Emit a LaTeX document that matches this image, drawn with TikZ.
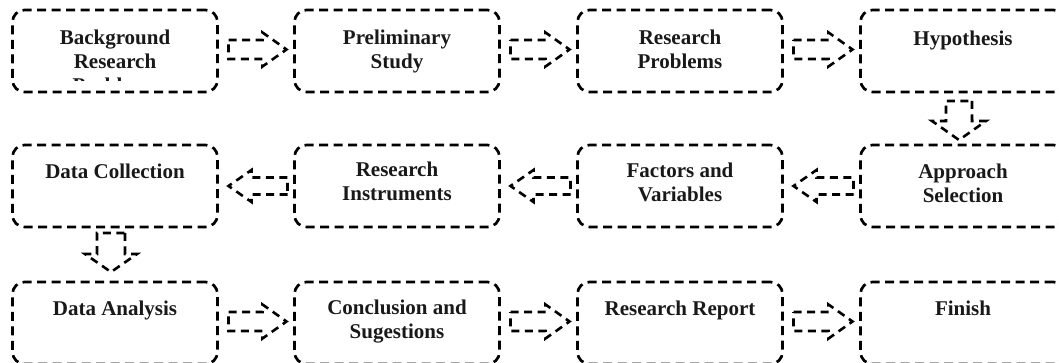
\documentclass[tikz,border=0pt]{standalone}
\usepackage{fontspec}
\setmainfont{Liberation Serif}
\usetikzlibrary{calc}
\tikzset{
  stepbox/.style={draw=black, line width=2.7pt, dash pattern=on 9pt off 5.5pt,
    rounded corners=12pt, minimum width=205pt, minimum height=82pt,
    inner sep=0pt, outer sep=0pt},
  lbl/.style={font=\fontsize{21}{24}\selectfont\bfseries, align=center,
    inner sep=0pt, outer sep=0pt, anchor=north, text=black!90},
  blk/.style={draw=black, line width=2.6pt, dash pattern=on 8pt off 5.5pt,
    line join=miter},
}
\newcommand\blockarr[5]{%
  \path (#1) coordinate (ba-t) (#2) coordinate (ba-h);
  \coordinate (ba-b) at ($(ba-h)!#5!(ba-t)$);
  \draw[blk] ($(ba-t)!#3!90:(ba-h)$) -- ($(ba-b)!#3!90:(ba-h)$)
    -- ($(ba-b)!#4!90:(ba-h)$) -- (ba-h) -- ($(ba-b)!#4!-90:(ba-h)$)
    -- ($(ba-b)!#3!-90:(ba-h)$) -- ($(ba-t)!#3!-90:(ba-h)$) -- cycle;}
\begin{document}
\begin{tikzpicture}[x=1pt,y=-1pt]
\useasboundingbox (0,0) rectangle (1059,363);
\clip (0,0) rectangle (1059,363);
% boxes
\node[stepbox] (b1) at (115,51) {};
\node[stepbox] (b2) at (397,51) {};
\node[stepbox] (b3) at (680,51) {};
\node[stepbox] (b4) at (963,51) {};
\node[stepbox] (b5) at (963,186) {};
\node[stepbox] (b6) at (680,186) {};
\node[stepbox] (b7) at (397,186) {};
\node[stepbox] (b8) at (115,186) {};
\node[stepbox] (b9) at (115,323) {};
\node[stepbox] (b10) at (397,323) {};
\node[stepbox] (b11) at (680,323) {};
\node[stepbox] (b12) at (963,323) {};
% labels
\begin{scope}
\clip ($(b1.north west)+(0,2)$) rectangle ($(b1.south east)+(0,-11)$);
\node[lbl] (t1) at ($(b1.north)+(0,17.5)$) {\strut Background\\Research\\Problems};
\end{scope}
\node[lbl] (t2) at ($(b2.north)+(0,17.5)$) {\strut Preliminary\\Study};
\node[lbl] (t3) at ($(b3.north)+(0,17.5)$) {\strut Research\\Problems};
\node[lbl] (t4) at ($(b4.north)+(0,18.5)$) {\strut Hypothesis};
\node[lbl] (t5) at ($(b5.north)+(0,17)$) {\strut Approach\\Selection};
\node[lbl] (t6) at ($(b6.north)+(0,16)$) {\strut Factors and\\Variables};
\node[lbl] (t7) at ($(b7.north)+(0,15)$) {\strut Research\\Instruments};
\node[lbl] (t8) at ($(b8.north)+(0,17)$) {\strut Data Collection};
\node[lbl] (t9) at ($(b9.north)+(0,17)$) {\strut Data Analysis};
\node[lbl] (t10) at ($(b10.north)+(0,16)$) {\strut Conclusion and\\Sugestions};
\node[lbl] (t11) at ($(b11.north)+(0,17)$) {\strut Research Report};
\node[lbl] (t12) at ($(b12.north)+(0,17)$) {\strut Finish};
% arrows row 1 (right)
\blockarr{$(b1.east)+(11,-1.5)$}{$(b2.west)+(-8,-1.5)$}{9.5pt}{17pt}{24pt}
\blockarr{$(b2.east)+(11,-1.5)$}{$(b3.west)+(-8,-1.5)$}{9.5pt}{17pt}{24pt}
\blockarr{$(b3.east)+(11,-1.5)$}{$(b4.west)+(-8,-1.5)$}{9.5pt}{17pt}{24pt}
% down
\blockarr{$(b4.south)+(-4,9)$}{$(b5.north)+(-4,-5)$}{13pt}{27pt}{19pt}
% row 2 (left)
\blockarr{$(b5.west)+(-7,0)$}{$(b6.east)+(11,0)$}{8.5pt}{16pt}{23pt}
\blockarr{$(b6.west)+(-7,0)$}{$(b7.east)+(11,0)$}{8.5pt}{16pt}{23pt}
\blockarr{$(b7.west)+(-7,0)$}{$(b8.east)+(11,0)$}{8.5pt}{16pt}{23pt}
% down
\blockarr{$(b8.south)+(-4,6)$}{$(b9.north)+(-4,-10)$}{14pt}{26pt}{18pt}
% row 3 (right)
\blockarr{$(b9.east)+(11,-1.5)$}{$(b10.west)+(-8,-1.5)$}{9.5pt}{17pt}{24pt}
\blockarr{$(b10.east)+(11,-1.5)$}{$(b11.west)+(-8,-1.5)$}{9.5pt}{17pt}{24pt}
\blockarr{$(b11.east)+(11,-1.5)$}{$(b12.west)+(-8,-1.5)$}{9.5pt}{17pt}{24pt}
\end{tikzpicture}
\end{document}
